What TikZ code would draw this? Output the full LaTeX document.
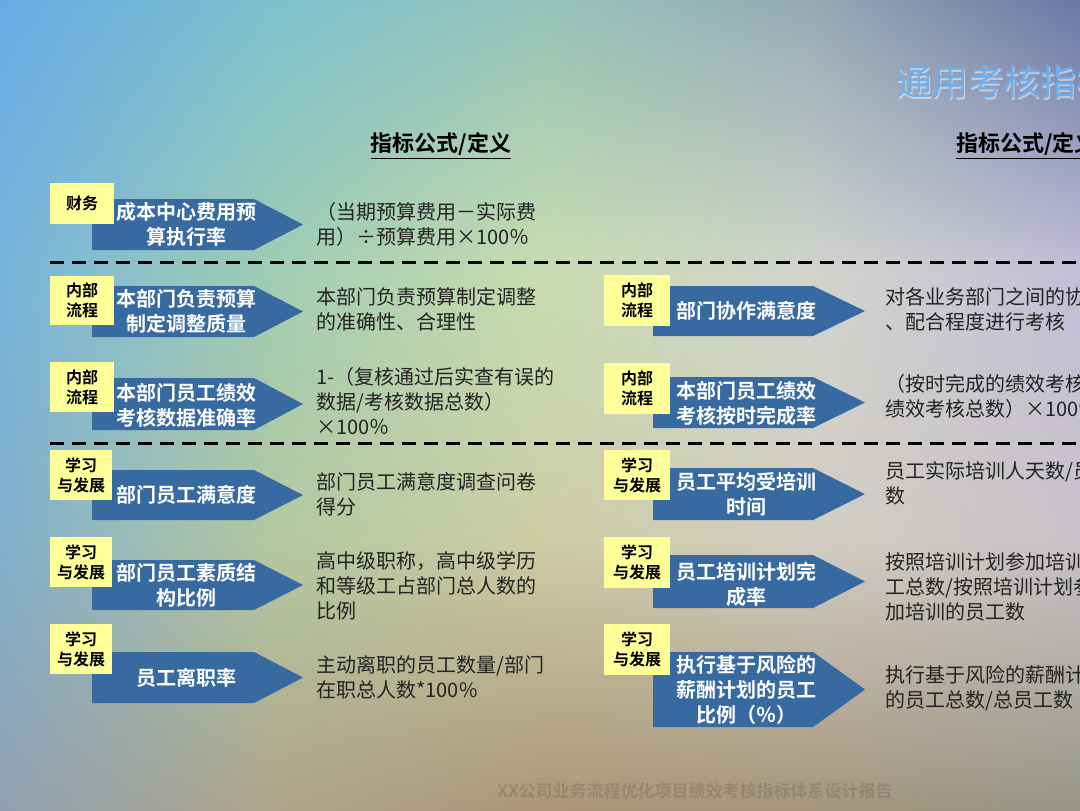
\documentclass[tikz,border=0pt]{standalone}
\usepackage{fontspec}
\setmainfont{Noto Sans CJK SC}[BoldFont={Noto Sans CJK SC Bold}]
\usetikzlibrary{shadings}
\definecolor{arrowblue}{RGB}{56,106,162}
\definecolor{labelyellow}{RGB}{255,255,153}
\definecolor{titleblue}{RGB}{110,175,235}
\definecolor{desctext}{RGB}{35,35,35}
% background grid colours
\definecolor{cAA}{RGB}{105,170,228}\definecolor{cBA}{RGB}{125,192,205}\definecolor{cCA}{RGB}{150,195,185}\definecolor{cDA}{RGB}{150,170,180}\definecolor{cEA}{RGB}{105,120,165}
\definecolor{cAB}{RGB}{120,180,220}\definecolor{cBB}{RGB}{160,205,180}\definecolor{cCB}{RGB}{200,220,175}\definecolor{cDB}{RGB}{210,212,205}\definecolor{cEB}{RGB}{195,190,215}
\definecolor{cAC}{RGB}{130,175,205}\definecolor{cBC}{RGB}{180,200,160}\definecolor{cCC}{RGB}{205,205,165}\definecolor{cDC}{RGB}{210,205,195}\definecolor{cEC}{RGB}{200,195,200}
\definecolor{cAD}{RGB}{145,160,175}\definecolor{cBD}{RGB}{175,165,140}\definecolor{cCD}{RGB}{170,150,120}\definecolor{cDD}{RGB}{165,150,125}\definecolor{cED}{RGB}{150,150,135}
\newcommand{\bgcell}[6]{\shade[upper left=#3,upper right=#4,lower left=#5,lower right=#6] (#1-0.5,#2-0.5) rectangle (#1+270.5,#2+270.5);}
\newcommand{\kpiarrow}[6]{% xl, ytop, ybot, xtaper, xtip
  \fill[arrowblue] (#1,#2) -- (#4,#2) -- (#5,{(#2+#3)/2}) -- (#4,#3) -- (#1,#3) -- cycle;}
\tikzset{
  arrowtext/.style={text=white,font=\fontsize{10}{12.5}\selectfont\bfseries,align=center,inner sep=0pt},
  kpilabel/.style={fill=labelyellow,font=\fontsize{8}{10}\selectfont\bfseries,align=center,inner sep=0pt,text=black},
  desc/.style={text=desctext,font=\fontsize{10}{12.5}\selectfont,align=left,inner sep=0pt,anchor=west},
  header/.style={font=\fontsize{11}{13}\selectfont\bfseries,text=black,inner sep=0pt},
  divider/.style={line width=1.5pt,dash pattern=on 7pt off 4pt,black},
}
\begin{document}
\begin{tikzpicture}[x=0.5pt,y=-0.5pt]
\useasboundingbox (0,0) rectangle (1080,810);
\clip (0,0) rectangle (1080,810);
% background
\bgcell{0}{0}{cAA}{cBA}{cAB}{cBB}\bgcell{270}{0}{cBA}{cCA}{cBB}{cCB}\bgcell{540}{0}{cCA}{cDA}{cCB}{cDB}\bgcell{810}{0}{cDA}{cEA}{cDB}{cEB}
\bgcell{0}{270}{cAB}{cBB}{cAC}{cBC}\bgcell{270}{270}{cBB}{cCB}{cBC}{cCC}\bgcell{540}{270}{cCB}{cDB}{cCC}{cDC}\bgcell{810}{270}{cDB}{cEB}{cDC}{cEC}
\bgcell{0}{540}{cAC}{cBC}{cAD}{cBD}\bgcell{270}{540}{cBC}{cCC}{cBD}{cCD}\bgcell{540}{540}{cCC}{cDC}{cCD}{cDD}\bgcell{810}{540}{cDC}{cEC}{cDD}{cED}
% title
\node[anchor=west,font=\fontsize{18}{20}\selectfont,text=white,opacity=0.5,inner sep=0pt] (titlehl) at (897.5,83.5) {通用考核指标};
\node[anchor=west,font=\fontsize{18}{20}\selectfont,text=titleblue,inner sep=0pt] (title) at (896,82) {通用考核指标};
% headers
\node[header] (h1) at (441,146) {\underline{指标公式/定义}};
\node[header,anchor=west] (h2) at (956,146) {\underline{指标公式/定义}};
% dividers
\coordinate (d1a) at (50,262); \coordinate (d1b) at (1080,262);
\coordinate (d2a) at (50,443); \coordinate (d2b) at (1080,443);
\draw[divider] (d1a) -- (d1b);
\draw[divider] (d2a) -- (d2b);
% ---------- left column ----------
\kpiarrow{92}{199}{250}{254}{303}{}
\node[kpilabel,minimum width=32pt,minimum height=20.5pt] (l1) at (82,203.5) {财务};
\node[arrowtext] (a1) at (186,224.5) {成本中心费用预\\算执行率};
\kpiarrow{92}{286}{337}{254}{303}{}
\node[kpilabel,minimum width=32pt,minimum height=24.5pt] (l2) at (82,300.5) {内部\\流程};
\node[arrowtext] (a2) at (186,311) {本部门负责预算\\制定调整质量};
\kpiarrow{92}{378}{430}{254}{303}{}
\node[kpilabel,minimum width=32pt,minimum height=25pt] (l3) at (82,387) {内部\\流程};
\node[arrowtext] (a3) at (186,405) {本部门员工绩效\\考核数据准确率};
\kpiarrow{92}{470}{520}{254}{303}{}
\node[kpilabel,minimum width=31pt,minimum height=25pt] (l4) at (81,475) {学习\\与发展};
\node[arrowtext] (a4) at (186,495) {部门员工满意度};
\kpiarrow{92}{560}{610}{254}{303}{}
\node[kpilabel,minimum width=31pt,minimum height=25pt] (l5) at (81,562) {学习\\与发展};
\node[arrowtext] (a5) at (186,585) {部门员工素质结\\构比例};
\kpiarrow{92}{652}{703}{254}{303}{}
\node[kpilabel,minimum width=31pt,minimum height=25pt] (l6) at (81,649) {学习\\与发展};
\node[arrowtext] (a6) at (186,677.5) {员工离职率};
% left descriptions
\node[desc] (t1) at (316,224.5) {（当期预算费用－实际费\\用）÷预算费用×100％};
\node[desc] (t2) at (316,309) {本部门负责预算制定调整\\的准确性、合理性};
\node[desc] (t3) at (316,401) {1-（复核通过后实查有误的\\数据/考核数据总数）\\×100％};
\node[desc] (t4) at (316,494.5) {部门员工满意度调查问卷\\得分};
\node[desc] (t5) at (316,586) {高中级职称，高中级学历\\和等级工占部门总人数的\\比例};
\node[desc] (t6) at (316,677) {主动离职的员工数量/部门\\在职总人数*100\%};
% ---------- right column ----------
\kpiarrow{653}{286}{336}{813}{865}{}
\node[kpilabel,minimum width=33pt,minimum height=25.5pt] (r1l) at (637,300.5) {内部\\流程};
\node[arrowtext] (r1) at (746,311) {部门协作满意度};
\kpiarrow{653}{377}{428}{813}{865}{}
\node[kpilabel,minimum width=33pt,minimum height=25.5pt] (r2l) at (637,388.5) {内部\\流程};
\node[arrowtext] (r2) at (746,403) {本部门员工绩效\\考核按时完成率};
\kpiarrow{653}{468}{520}{813}{865}{}
\node[kpilabel,minimum width=33pt,minimum height=25pt] (r3l) at (637,475) {学习\\与发展};
\node[arrowtext] (r3) at (746,494) {员工平均受培训\\时间};
\kpiarrow{653}{555}{608}{813}{865}{}
\node[kpilabel,minimum width=33pt,minimum height=25.5pt] (r4l) at (637,562.5) {学习\\与发展};
\node[arrowtext] (r4) at (746,584) {员工培训计划完\\成率};
\kpiarrow{653}{652}{727}{813}{865}{}
\node[kpilabel,minimum width=33pt,minimum height=25.5pt] (r5l) at (637,649.5) {学习\\与发展};
\node[arrowtext] (r5) at (746,690) {执行基于风险的\\薪酬计划的员工\\比例（％）};
% right descriptions
\node[desc] (s1) at (885,309) {对各业务部门之间的协作\\、配合程度进行考核};
\node[desc] (s2) at (885,396) {（按时完成的绩效考核数\\绩效考核总数）×100％};
\node[desc] (s3) at (885,483) {员工实际培训人天数/员工\\数};
\node[desc] (s4) at (885,587) {按照培训计划参加培训的员\\工总数/按照培训计划参\\加培训的员工数};
\node[desc] (s5) at (885,688) {执行基于风险的薪酬计划\\的员工总数/总员工数};
% footer
\node[anchor=west,font=\fontsize{8.5}{10}\selectfont\bfseries,text=black,opacity=0.12,inner sep=0pt] (footer) at (497,791) {XX公司业务流程优化项目绩效考核指标体系设计报告};
\end{tikzpicture}
\end{document}
